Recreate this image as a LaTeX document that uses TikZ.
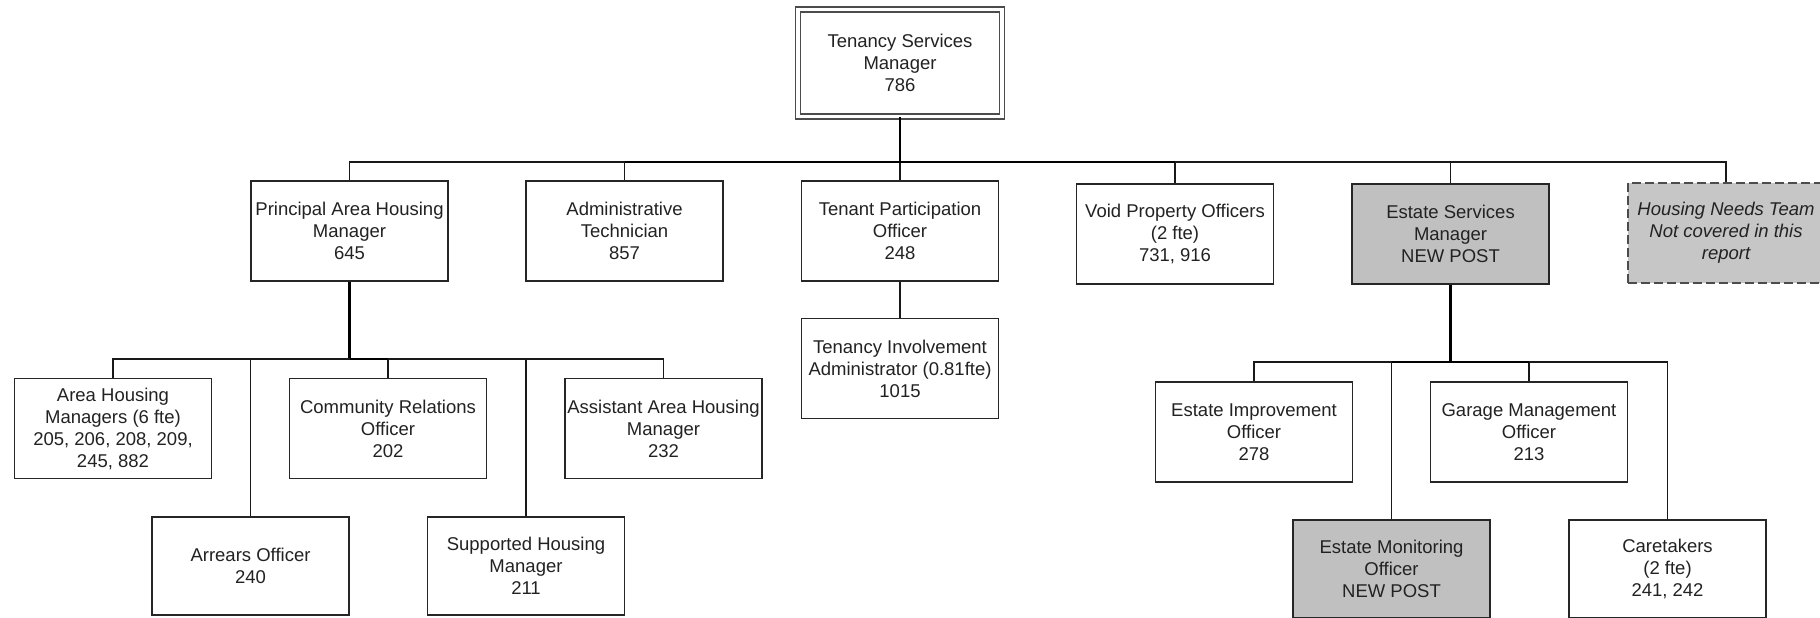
\documentclass[tikz,border=0pt]{standalone}
\usepackage{fontspec}
\setmainfont{Liberation Sans}
\definecolor{boxgray}{HTML}{C0C0C0}
\definecolor{needgray}{HTML}{C6C6C6}
\definecolor{txt}{HTML}{222222}
\begin{document}
\begin{tikzpicture}[x=0.5pt,y=-0.5pt,
  box/.style={draw=black!85, line width=0.7pt, fill=white, minimum width=98.5pt,
    minimum height=50pt, inner sep=0pt, align=center, text=txt,
    font=\fontsize{9.25pt}{11pt}\selectfont},
  newpost/.style={box, fill=boxgray},
  lowbox/.style={box, minimum height=49pt},
  topbox/.style={box, draw=black!70, line width=0.6pt, double=white, double distance=1.9pt,
    minimum width=102pt, minimum height=53.5pt},
  needbox/.style={box, fill=needgray, draw=black!70, line width=1pt,
    dash pattern=on 4.5pt off 2pt, font=\fontsize{9.25pt}{11pt}\selectfont\itshape},
  conn/.style={draw=black!90, line width=0.75pt},
  trunk/.style={draw=black, line width=1.05pt}]
\useasboundingbox (0,0) rectangle (1820,617);
\clip (0,0) rectangle (1820,617);

% top
\node[topbox] (top) at (900,63) {Tenancy Services\\Manager\\786};

% level 1
\node[box] (pahm) at (349.5,231) {Principal Area Housing\\Manager\\645};
\node[box] (at) at (624.5,231) {Administrative\\Technician\\857};
\node[box] (tpo) at (900,231) {Tenant Participation\\Officer\\248};
\node[box] (void) at (1175,234) {Void Property Officers\\(2 fte)\\731, 916};
\node[newpost] (esm) at (1450.5,234) {Estate Services\\Manager\\NEW POST};
\node[needbox] (hnt) at (1726,232.5) {Housing Needs Team\\Not covered in this\\report};

% under TPO
\node[box] (tia) at (900,368.5) {Tenancy Involvement\\Administrator (0.81fte)\\1015};

% under PAHM
\node[box] (ahm) at (113,428.5) {Area Housing\\Managers (6 fte)\\205, 206, 208, 209,\\245, 882};
\node[box] (cro) at (388,428.5) {Community Relations\\Officer\\202};
\node[box] (aahm) at (663.5,428.5) {Assistant Area Housing\\Manager\\232};
\node[lowbox] (ao) at (250.5,566) {Arrears Officer\\240};
\node[lowbox] (shm) at (526,566) {Supported Housing\\Manager\\211};

% under ESM
\node[box] (eio) at (1254,432) {Estate Improvement\\Officer\\278};
\node[box] (gmo) at (1529,432) {Garage Management\\Officer\\213};
\node[newpost, minimum height=49pt] (emo) at (1391.5,569) {Estate Monitoring\\Officer\\NEW POST};
\node[lowbox] (care) at (1667.5,569) {Caretakers\\(2 fte)\\241, 242};

% bars
\coordinate (b1) at (900,162);
\coordinate (b2) at (349.5,359);
\coordinate (b3) at (1450.5,362);

% connectors from top
\draw[trunk] (top.south) -- (b1);
\foreach \c in {pahm,at,void,esm,hnt} \draw[conn] (b1) -| (\c.north);
\draw[conn] (b1) -- (tpo.north);
\draw[trunk] (at.north |- b1) -- (void.north |- b1);

% TPO -> TIA
\draw[conn] (tpo.south) -- (tia.north);

% PAHM children
\draw[trunk] (pahm.south) -- (b2);
\foreach \c in {ahm,cro,aahm,ao,shm} \draw[conn] (b2) -| (\c.north);
\draw[trunk] (b2) -- (cro.north |- b2);

% ESM children
\draw[trunk] (esm.south) -- (b3);
\foreach \c in {eio,gmo,emo,care} \draw[conn] (b3) -| (\c.north);
\draw[trunk] (emo.north |- b3) -- (gmo.north |- b3);
\end{tikzpicture}
\end{document}
